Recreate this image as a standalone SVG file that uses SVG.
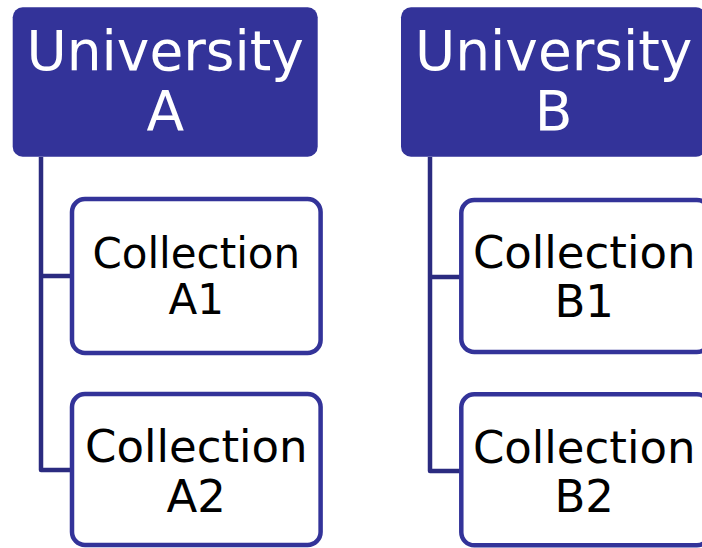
<svg xmlns="http://www.w3.org/2000/svg" width="702" height="548" viewBox="0 0 702 548">
<style>
.head{fill:#333399;}
.headtxt{fill:#ffffff;font-family:"DejaVu Sans",Verdana,sans-serif;font-size:55px;text-anchor:middle;}
.child{fill:#ffffff;stroke:#333399;stroke-width:4.5;}
.childtxt{fill:#000000;font-family:"DejaVu Sans",Verdana,sans-serif;text-anchor:middle;}
.conn{fill:none;stroke:#2B2B80;stroke-width:4.5;stroke-linejoin:round;}
</style>
<rect width="702" height="548" fill="#ffffff"/>
<g id="connectors">
<path class="conn" d="M41,157 V470 H72 M41,276 H72"/>
<path class="conn" d="M430,157 V471 H461 M430,277 H461"/>
</g>
<g id="uniA">
<rect class="head" x="12.7" y="7.3" width="305" height="149.4" rx="10"/>
<text class="headtxt" x="165.2" y="70">University</text>
<text class="headtxt" x="165.2" y="130">A</text>
</g>
<g id="colA1">
<rect class="child" x="72" y="199" width="248.6" height="154" rx="13"/>
<text class="childtxt" x="196.3" y="267.7" font-size="42">Collection</text>
<text class="childtxt" x="196.3" y="314.3" font-size="42">A1</text>
</g>
<g id="colA2">
<rect class="child" x="72" y="394" width="248.6" height="151" rx="13"/>
<text class="childtxt" x="196.3" y="461.7" font-size="45">Collection</text>
<text class="childtxt" x="196.3" y="511.7" font-size="45">A2</text>
</g>
<g id="uniB">
<rect class="head" x="401" y="7.3" width="305" height="149.4" rx="10"/>
<text class="headtxt" x="553.7" y="70">University</text>
<text class="headtxt" x="553.7" y="130">B</text>
</g>
<g id="colB1">
<rect class="child" x="461.3" y="200" width="248.6" height="152" rx="13"/>
<text class="childtxt" x="584.2" y="268.3" font-size="45">Collection</text>
<text class="childtxt" x="584.2" y="316.7" font-size="45">B1</text>
</g>
<g id="colB2">
<rect class="child" x="461.3" y="394.3" width="248.6" height="151" rx="13"/>
<text class="childtxt" x="584.2" y="462.7" font-size="45">Collection</text>
<text class="childtxt" x="584.2" y="511.7" font-size="45">B2</text>
</g>
</svg>
